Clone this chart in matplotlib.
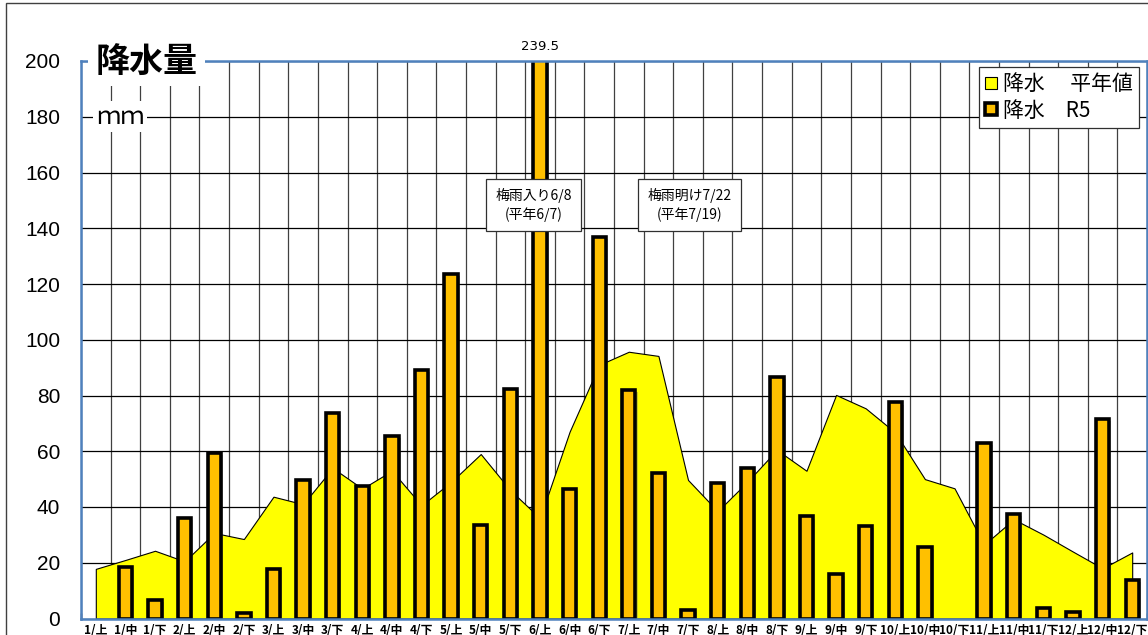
import matplotlib
matplotlib.use("Agg")
import matplotlib.pyplot as plt
from matplotlib.patches import Patch, Rectangle
from matplotlib import patheffects as pe
from matplotlib import font_manager as fm
import numpy as np

plt.rcParams['font.family'] = ['Noto Sans CJK JP', 'DejaVu Sans']

categories = ['1/上', '1/中', '1/下', '2/上', '2/中', '2/下', '3/上', '3/中', '3/下',
              '4/上', '4/中', '4/下', '5/上', '5/中', '5/下', '6/上', '6/中', '6/下',
              '7/上', '7/中', '7/下', '8/上', '8/中', '8/下', '9/上', '9/中', '9/下',
              '10/上', '10/中', '10/下', '11/上', '11/中', '11/下', '12/上', '12/中', '12/下']

normal = [17.8, 21.0, 24.3, 20.5, 30.7, 28.5, 43.7, 41.0, 54.0,
          46.6, 53.0, 40.6, 49.0, 59.0, 46.0, 36.0, 67.0, 91.0,
          95.7, 94.2, 49.7, 38.5, 49.0, 60.5, 53.0, 80.2, 75.4,
          66.7, 50.0, 46.7, 26.5, 35.6, 30.1, 24.0, 18.0, 23.7]

r5 = [0.0, 18.3, 6.5, 36.0, 59.4, 2.0, 17.9, 49.7, 73.7,
      47.4, 65.5, 89.2, 123.7, 33.6, 82.3, 239.5, 46.5, 137.0,
      82.0, 52.1, 3.1, 48.5, 53.9, 86.8, 36.6, 16.0, 33.3,
      77.5, 25.6, 0.0, 63.1, 37.6, 3.7, 2.3, 71.5, 13.9]

yticks = [0, 20, 40, 60, 80, 100, 120, 140, 160, 180, 200]

names = {f.name for f in fm.fontManager.ttflist}
num_font = 'Liberation Sans Narrow' if 'Liberation Sans Narrow' in names else 'Liberation Sans'

W, H = 1148, 635
fig = plt.figure(figsize=(W / 100, H / 100), dpi=100)
fig.patch.set_facecolor('white')

# outer frame of the chart area
fig.add_artist(Rectangle((6 / W, -0.1), 1.2, (H - 3) / H + 0.1, transform=fig.transFigure,
                         fill=False, edgecolor='#404040', lw=1.0, clip_on=False))

left, right, top, bottom = 81, 1147, 61, 618.5
ax = fig.add_axes([left / W, (H - bottom) / H, (right - left) / W, (bottom - top) / H])

x = np.arange(len(categories))

# area (normal values)
ax.fill_between(x, normal, 0, facecolor='#FFFF00', edgecolor='black', linewidth=0.8, zorder=2)

# bars (R5)
bars = ax.bar(x, r5, width=0.45, color='#FFC000', edgecolor='black', linewidth=2.6, zorder=3)
for b, v in zip(bars, r5):
    if v <= 0:
        b.set_visible(False)
        continue
    b.set_path_effects([pe.SimplePatchShadow(offset=(1.5, -1.5), alpha=0.35, shadow_rgbFace='#666666'),
                        pe.Normal()])

ax.set_xlim(-0.5, len(categories) - 0.5)
ax.set_ylim(0, 200)

ax.set_yticks(yticks)
ax.set_yticklabels([str(v) for v in yticks], fontfamily=num_font, fontsize=15)
ax.tick_params(axis='y', length=0, pad=15)

ax.set_xticks(x)
ax.set_xticklabels(categories, fontsize=8.5, fontweight='bold')
ax.set_xticks(np.arange(-0.5, len(categories), 1.0), minor=True)
ax.tick_params(axis='x', which='major', length=0, pad=4)
ax.tick_params(axis='x', which='minor', direction='in', length=4, width=1, color='black')

ax.grid(True, axis='y', which='major', color='black', lw=0.9, zorder=0)
ax.grid(True, axis='x', which='minor', color='#404040', lw=0.9, zorder=0)
ax.grid(False, axis='x', which='major')
ax.set_axisbelow(True)

for s in ax.spines.values():
    s.set_color('#4F81BD')
    s.set_linewidth(1.8)
    s.set_zorder(4)

# title and unit
ax.text(0.0, 200, '降水量', fontsize=24.5, fontweight='bold', ha='left', va='center', zorder=6,
        bbox=dict(facecolor='white', edgecolor='none', boxstyle='square,pad=0.22'))
ax.text(0.0, 180, 'ｍｍ', fontsize=17.5, ha='left', va='center', zorder=6,
        bbox=dict(facecolor='white', edgecolor='none', boxstyle='square,pad=0.1'))

# overflow label
ax.text(15, 203, f'{r5[15]}', fontsize=9.5, ha='center', va='bottom', fontfamily='DejaVu Sans',
        clip_on=False)

# annotations
ax.text(14.78, 148.3, '梅雨入り6/8\n(平年6/7)', fontsize=10, ha='center', va='center', zorder=7,
        linespacing=1.35,
        bbox=dict(facecolor='white', edgecolor='#303030', lw=0.9, boxstyle='square,pad=0.65'))
ax.text(20.05, 148.3, '梅雨明け7/22\n(平年7/19)', fontsize=10, ha='center', va='center', zorder=7,
        linespacing=1.35,
        bbox=dict(facecolor='white', edgecolor='#303030', lw=0.9, boxstyle='square,pad=0.65'))

# legend
handles = [Patch(facecolor='#FFFF00', edgecolor='black', lw=0.8),
           Patch(facecolor='#FFC000', edgecolor='black', lw=2.6)]
leg = ax.legend(handles, ['降水　 平年値', '降水　R5'], loc='upper right',
                bbox_to_anchor=(0.9925, 0.989), fontsize=15, frameon=True, fancybox=False,
                edgecolor='#303030', framealpha=1, handlelength=0.55, handleheight=0.55,
                handletextpad=0.3, borderpad=0.3, labelspacing=0.2, borderaxespad=0)
leg.get_frame().set_linewidth(0.9)
leg.set_zorder(8)

fig.savefig('out.png', dpi=100)
